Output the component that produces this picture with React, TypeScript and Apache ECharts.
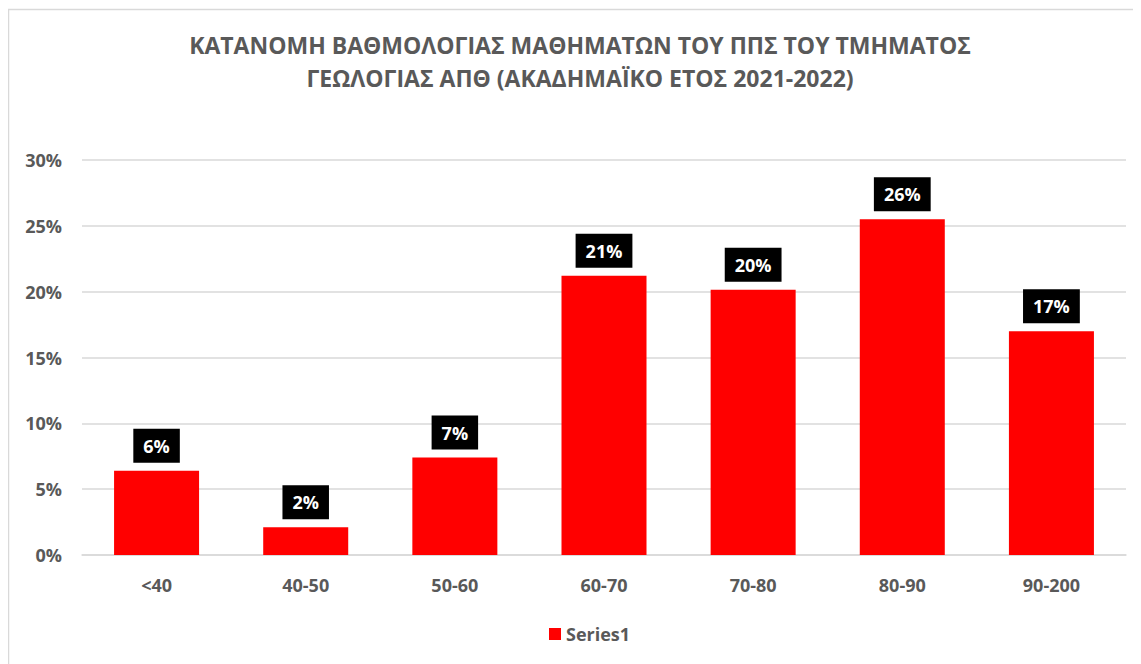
import React, { useEffect, useRef } from "react";
import * as echarts from "echarts";

const titleLines = [
  "ΚΑΤΑΝΟΜΗ ΒΑΘΜΟΛΟΓΙΑΣ ΜΑΘΗΜΑΤΩΝ ΤΟΥ ΠΠΣ ΤΟΥ ΤΜΗΜΑΤΟΣ",
  "ΓΕΩΛΟΓΙΑΣ ΑΠΘ (ΑΚΑΔΗΜΑΪΚΟ ΕΤΟΣ 2021-2022)",
];
const categories = ["<40", "40-50", "50-60", "60-70", "70-80", "80-90", "90-200"];
const seriesName = "Series1";
const values = [0.064, 0.021, 0.074, 0.212, 0.2015, 0.255, 0.17];

const FONT = "'Open Sans', 'Noto Sans', sans-serif";
const GRAY = "#595959";

export default function App() {
  const ref = useRef<HTMLDivElement>(null);
  useEffect(() => {
    document.body.style.overflow = "hidden";
    const chart = echarts.init(ref.current!, null, { renderer: "svg" });
    chart.setOption({
      animation: false,
      backgroundColor: "#fff",
      textStyle: { fontFamily: FONT },
      title: {
        text: titleLines.join("\n"),
        left: 567,
        textAlign: "center",
        top: 15,
        textStyle: {
          fontFamily: FONT,
          fontSize: 23,
          fontWeight: "bold",
          color: GRAY,
          lineHeight: 33,
        },
      },
      graphic: [
        {
          type: "rect",
          shape: { x: 0.5, y: 1.5, width: 1131.5, height: 800 },
          style: { fill: "none", stroke: "#d9d9d9", lineWidth: 1.5 },
          silent: true,
          z: -1,
        },
      ],
      legend: {
        data: [seriesName],
        left: 536,
        top: 612,
        icon: "rect",
        itemWidth: 12,
        itemHeight: 12,
        textStyle: { fontFamily: FONT, fontSize: 18, fontWeight: "bold", color: GRAY },
      },
      grid: { left: 74, right: 15, top: 152, bottom: 109, containLabel: false },
      xAxis: {
        type: "category",
        data: categories,
        axisLine: { lineStyle: { color: "#d9d9d9", width: 1.5 } },
        axisTick: { show: false },
        axisLabel: {
          margin: 21,
          fontFamily: FONT,
          fontSize: 18,
          fontWeight: "bold",
          color: GRAY,
        },
      },
      yAxis: {
        type: "value",
        min: 0,
        max: 0.3,
        interval: 0.05,
        axisLine: { show: false },
        axisTick: { show: false },
        splitLine: { lineStyle: { color: "#d9d9d9", width: 1.5 } },
        axisLabel: {
          margin: 20,
          fontFamily: FONT,
          fontSize: 18,
          fontWeight: "bold",
          color: GRAY,
          formatter: (v: number) => Math.round(v * 100) + "%",
        },
      },
      series: [
        {
          name: seriesName,
          type: "bar",
          data: values,
          barWidth: "57%",
          itemStyle: { color: "#ff0000" },
          label: {
            show: true,
            position: "top",
            distance: 8,
            formatter: (p: any) => Math.round(p.value * 100) + "%",
            backgroundColor: "#000",
            color: "#fff",
            fontFamily: FONT,
            fontSize: 18,
            fontWeight: "bold",
            lineHeight: 20,
            padding: [7, 10, 7, 10],
          },
        },
      ],
    });
    return () => chart.dispose();
  }, []);
  return <div ref={ref} style={{ width: 1133, height: 656 }} />;
}
